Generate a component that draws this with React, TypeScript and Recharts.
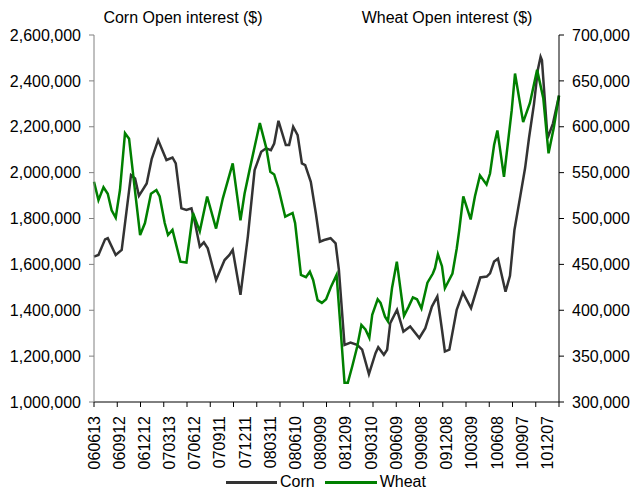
import React from 'react';
import { LineChart, Line, XAxis, YAxis, Legend } from 'recharts';

const FONT = '"Liberation Sans", Arial, Helvetica, sans-serif';

const dateLabels = [
  '060613', '060912', '061212', '070313', '070612', '070911', '071211', '080311',
  '080610', '080909', '081209', '090310', '090609', '090908', '091208', '100309',
  '100608', '100907', '101207',
];

// weeks since 060613
const cornWeeks = [
  0, 2.3, 5.7, 7.1, 11.2, 14.3, 19.1, 21.2, 23.2, 27.2, 29.8, 33.1, 37.4, 40.5, 42.2,
  45.1, 47.7, 50.3, 52, 54.6, 56.7, 58.7, 63, 67.4, 69.9, 71.6, 75.6, 79.4, 82.9, 86.3,
  88.8, 91.3, 93, 95.2, 99, 100.7, 102.8, 105.1, 107.3, 109, 111.9, 114.5, 116.6, 118.8,
  122.1, 124.7, 126.4, 129.3, 132.4, 135.8, 138.4, 141.9, 145.3, 146.7, 149.6, 151.3,
  152.9, 156.4, 159.7, 163.2, 167.9, 171, 174.4, 177.2, 179.6, 181.1, 183.4, 187.2,
  190.4, 194.6, 199.4, 202.7, 204.4, 206.5, 208.5, 212.4, 214.7, 217, 220.1, 222.5,
  224.5, 227.1, 229.1, 230.5, 231.2, 234.1, 236.9, 240,
];
const cornValues = [
  1634000, 1641000, 1709000, 1714000, 1641000, 1663000, 1989000, 1975000, 1899000,
  1953000, 2060000, 2142000, 2055000, 2066000, 2040000, 1844000, 1837000, 1844000,
  1786000, 1677000, 1696000, 1670000, 1532000, 1619000, 1641000, 1663000, 1467000,
  1721000, 2011000, 2091000, 2106000, 2098000, 2127000, 2226000, 2120000, 2120000,
  2200000, 2163000, 2040000, 2033000, 1960000, 1823000, 1699000, 1706000, 1714000,
  1692000, 1576000, 1249000, 1259000, 1249000, 1228000, 1122000, 1213000, 1239000,
  1206000, 1228000, 1344000, 1402000, 1307000, 1329000, 1279000, 1322000, 1416000,
  1460000, 1315000, 1220000, 1228000, 1402000, 1477000, 1409000, 1543000, 1547000,
  1561000, 1612000, 1625000, 1481000, 1550000, 1750000, 1902000, 2020000, 2150000,
  2300000, 2450000, 2505000, 2490000, 2150000, 2215000, 2335000,
];

const wheatWeeks = [
  0, 2.3, 4.9, 7.1, 9.1, 11.2, 13.4, 16, 18.1, 20.9, 23.8, 26.3, 29.4, 32.2, 33.9, 36.5,
  38.2, 40.5, 44.6, 47.7, 51.1, 54.6, 58.4, 63, 66.5, 71.6, 75.6, 77.7, 80.3, 85.6, 88.9,
  91, 93, 95.2, 98.7, 102.5, 103.8, 106.8, 109.4, 111.4, 113.1, 115.4, 117.6, 119.8,
  122.4, 125.2, 127.3, 129.3, 131, 133.3, 135.8, 138, 140.1, 142.1, 143.6, 146.4, 147.9,
  150.2, 151.7, 153.8, 156.3, 160, 162.4, 164.6, 166.7, 169, 172.1, 174.9, 176, 177.5,
  179.6, 181.1, 185, 187.2, 188.5, 190.6, 194.4, 196.6, 199.2, 202.6, 204.4, 206.5,
  208.2, 211.6, 215.6, 217.3, 221.5, 225, 228.7, 231.9, 234.6, 237.3, 240,
];
const wheatValues = [
  540000, 520000, 534000, 527000, 509000, 501000, 531000, 593000, 587000, 535000,
  482000, 495000, 527000, 531000, 524000, 495000, 482000, 487500, 453000, 452000,
  506000, 486000, 524000, 489000, 522000, 560000, 498000, 527000, 553000, 604000,
  577000, 551000, 548000, 533000, 502000, 506000, 495000, 438500, 436000, 442000,
  433000, 411000, 408000, 412000, 426000, 438500, 379000, 321000, 321000, 339000,
  360000, 384000, 379000, 370000, 395000, 412000, 408000, 393000, 388000, 424000,
  453000, 394000, 404000, 414000, 412000, 402000, 430000, 440000, 446000, 461000,
  448000, 424000, 440000, 467000, 487000, 524000, 499000, 524000, 547000, 537000,
  549000, 580000, 596000, 545500, 618000, 658000, 605000, 626000, 662000, 631000,
  571000, 599000, 634000,
];

const cornTicks = [1000000, 1200000, 1400000, 1600000, 1800000, 2000000, 2200000, 2400000, 2600000];
const wheatTicks = [300000, 350000, 400000, 450000, 500000, 550000, 600000, 650000, 700000];

const LABEL_STEP = 13;
const MARK_STEP = 12;
const LAST_WEEK = 240;

const cornData = cornWeeks.map((w, i) => ({ week: w, value: cornValues[i] }));
const wheatData = wheatWeeks.map((w, i) => ({ week: w, value: wheatValues[i] }));

const xTicks: number[] = Array.from(
  new Set([
    ...Array.from({ length: LAST_WEEK / MARK_STEP + 1 }, (_, i) => i * MARK_STEP),
    ...dateLabels.map((_, i) => i * LABEL_STEP),
  ])
).sort((a, b) => a - b);

const fmt = (v: number) => v.toLocaleString('en-US');

const XTick = (props: any) => {
  const { x, y, payload } = props;
  const v = payload.value as number;
  const isMark = v % MARK_STEP === 0;
  const idx = v / LABEL_STEP;
  const isLabel = Number.isInteger(idx) && idx < dateLabels.length;
  return (
    <g>
      {isMark && <line x1={x} x2={x} y1={y - 5} y2={y} stroke="#000" strokeWidth={1} />}
      {isLabel && (
        <text
          transform={`translate(${x},${y + 9}) rotate(-90)`}
          textAnchor="end"
          dominantBaseline="central"
          fontFamily={FONT}
          fontSize={16}
          fill="#000"
        >
          {dateLabels[idx]}
        </text>
      )}
    </g>
  );
};

const renderLegend = () => (
  <div style={{ width: 632, height: 25, position: 'relative', fontFamily: FONT, fontSize: 16, color: '#000' }}>
    <div style={{ position: 'absolute', left: 226, top: 5, display: 'flex', alignItems: 'center', whiteSpace: 'nowrap' }}>
      <span style={{ display: 'inline-block', width: 51, height: 3, background: '#333333' }} />
      <span style={{ marginLeft: 3 }}>Corn</span>
      <span style={{ display: 'inline-block', width: 52, height: 3, background: '#008000', marginLeft: 10 }} />
      <span style={{ marginLeft: 3 }}>Wheat</span>
    </div>
  </div>
);

export default function App() {
  return (
    <div style={{ position: 'absolute', left: 0, top: 0, width: 632, height: 493, background: '#fff' }}>
      <LineChart width={632} height={493} margin={{ top: 35, right: 0, bottom: 0, left: 0 }}>
        <XAxis
          dataKey="week"
          type="number"
          domain={[0, LAST_WEEK]}
          ticks={xTicks}
          interval={0}
          allowDuplicatedCategory={false}
          height={66}
          tickSize={5}
          tickMargin={0}
          tickLine={false}
          tick={<XTick />}
          stroke="#000"
        />
        <YAxis
          yAxisId="corn"
          orientation="left"
          width={94}
          domain={[1000000, 2600000]}
          ticks={cornTicks}
          interval={0}
          tickFormatter={fmt}
          tickSize={5}
          tickMargin={8}
          stroke="#808080"
          tick={{ fill: '#000', fontSize: 16, fontFamily: FONT }}
          label={{
            content: () => (
              <text x={183} y={23} textAnchor="middle" fontFamily={FONT} fontSize={16} fill="#000">
                Corn Open interest ($)
              </text>
            ),
          }}
        />
        <YAxis
          yAxisId="wheat"
          orientation="right"
          width={73}
          domain={[300000, 700000]}
          ticks={wheatTicks}
          interval={0}
          tickFormatter={fmt}
          tickSize={5}
          tickMargin={8}
          stroke="#000"
          tick={{ fill: '#000', fontSize: 16, fontFamily: FONT }}
          label={{
            content: () => (
              <text x={447} y={23} textAnchor="middle" fontFamily={FONT} fontSize={16} fill="#000">
                Wheat Open interest ($)
              </text>
            ),
          }}
        />
        <Legend verticalAlign="bottom" content={renderLegend} wrapperStyle={{ left: 0, bottom: 0, width: 632, margin: 0, padding: 0 }} />
        <Line
          yAxisId="corn"
          data={cornData}
          dataKey="value"
          name="Corn"
          type="linear"
          stroke="#333333"
          strokeWidth={2.5}
          dot={false}
          activeDot={false}
          isAnimationActive={false}
        />
        <Line
          yAxisId="wheat"
          data={wheatData}
          dataKey="value"
          name="Wheat"
          type="linear"
          stroke="#008000"
          strokeWidth={2.5}
          dot={false}
          activeDot={false}
          isAnimationActive={false}
        />
      </LineChart>
    </div>
  );
}
